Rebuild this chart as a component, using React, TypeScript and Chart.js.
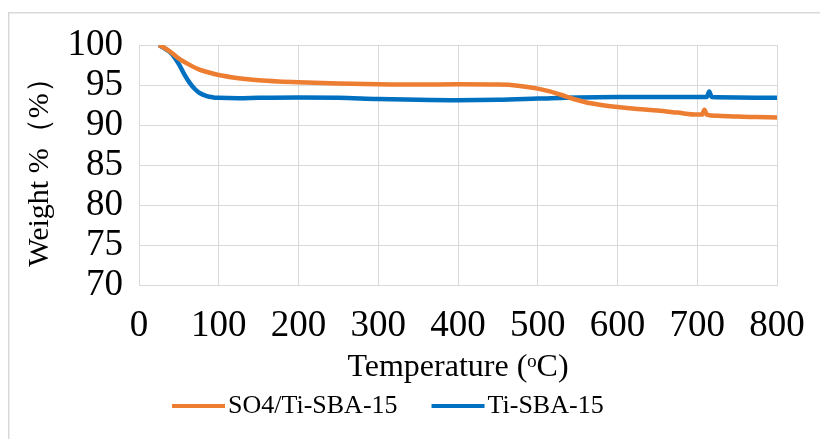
import React, { useEffect, useRef } from "react";
import { Chart, registerables } from "chart.js";

Chart.register(...registerables);

const seriesNames = ["SO4/Ti-SBA-15", "Ti-SBA-15"];
const seriesColors = ["#ED7D31", "#0070C0"];

const tempSO4 = [25, 30, 40, 50, 60, 75, 90, 100, 125, 150, 175, 200, 250, 300, 350, 400, 450, 475, 500, 515, 530, 545, 560, 580, 600, 625, 650, 675, 700, 706, 709, 712, 725, 750, 775, 800];
const weightSO4 = [100, 99.75, 99.1, 98.3, 97.7, 96.95, 96.5, 96.25, 95.85, 95.6, 95.45, 95.35, 95.2, 95.1, 95.05, 95.08, 95.05, 94.92, 94.55, 94.2, 93.75, 93.25, 92.85, 92.5, 92.25, 92.0, 91.8, 91.55, 91.3, 91.3, 91.9, 91.3, 91.15, 91.05, 91.0, 90.95];

const tempTi = [25, 30, 40, 50, 57, 64, 70, 76, 85, 93, 100, 125, 150, 200, 250, 300, 350, 400, 450, 500, 550, 600, 650, 700, 712, 715, 718, 750, 800];
const weightTi = [100, 99.7, 99.0, 97.6, 96.3, 95.2, 94.5, 94.0, 93.6, 93.45, 93.4, 93.35, 93.4, 93.45, 93.4, 93.25, 93.15, 93.1, 93.15, 93.3, 93.45, 93.5, 93.5, 93.5, 93.5, 94.2, 93.5, 93.45, 93.4];

const xTitle = "Temperature (ᵒC)";
const yTitle = "Weight %（%）";

const FONT = "'Liberation Serif', 'Times New Roman', serif";

export default function App() {
  const ref = useRef<HTMLCanvasElement>(null);
  useEffect(() => {
    const canvas = ref.current;
    if (!canvas) return;
    const toPts = (xs: number[], ys: number[]) => xs.map((x, i) => ({ x, y: ys[i] }));
    const frame = {
      id: "frame",
      beforeDraw(chart: any) {
        const ctx = chart.ctx;
        ctx.save();
        ctx.fillStyle = "#ffffff";
        ctx.fillRect(0, 0, chart.width, chart.height);
        ctx.strokeStyle = "#d9d9d9";
        ctx.lineWidth = 1.5;
        ctx.strokeRect(8.75, 12.75, 900, 500);
        ctx.restore();
      },
      afterDraw(chart: any) {
        const ctx = chart.ctx;
        ctx.save();
        ctx.font = "26px " + FONT;
        ctx.textBaseline = "middle";
        ctx.textAlign = "left";
        let x = 172;
        const y = 406;
        chart.data.datasets.forEach((ds: any) => {
          ctx.strokeStyle = ds.borderColor;
          ctx.lineWidth = 4;
          ctx.beginPath();
          ctx.moveTo(x, y);
          ctx.lineTo(x + 53, y);
          ctx.stroke();
          ctx.fillStyle = "#000";
          ctx.fillText(ds.label, x + 56, y);
          x = x + 56 + ctx.measureText(ds.label).width + 34;
        });
        ctx.restore();
      },
    };
    const chart = new Chart(canvas, {
      type: "line",
      data: {
        datasets: [
          {
            label: seriesNames[0],
            data: toPts(tempSO4, weightSO4),
            borderColor: seriesColors[0],
            backgroundColor: seriesColors[0],
            borderWidth: 4.5,
            pointRadius: 0,
            cubicInterpolationMode: "monotone",
          },
          {
            label: seriesNames[1],
            data: toPts(tempTi, weightTi),
            borderColor: seriesColors[1],
            backgroundColor: seriesColors[1],
            borderWidth: 4.5,
            pointRadius: 0,
            cubicInterpolationMode: "monotone",
          },
        ],
      },
      options: {
        responsive: false,
        animation: false,
        layout: { padding: { left: 0, right: 43, top: 45, bottom: 0 } },
        plugins: { legend: { display: false }, tooltip: { enabled: false } },
        scales: {
          x: {
            type: "linear",
            min: 0,
            max: 800,
            ticks: { stepSize: 100, color: "#000", font: { family: FONT, size: 37 }, padding: 19, maxRotation: 0, autoSkip: false },
            grid: { color: "#d9d9d9", lineWidth: 1, drawTicks: false },
            border: { color: "#d9d9d9" },
            title: { display: true, text: xTitle, color: "#000", font: { family: FONT, size: 32 }, padding: { top: 0, bottom: 52 } },
            afterFit: (s: any) => { s.height = 154; s.paddingLeft = 0; s.paddingRight = 0; },
          },
          y: {
            min: 70,
            max: 100,
            ticks: { stepSize: 5, color: "#000", font: { family: FONT, size: 37 }, padding: 16, autoSkip: false },
            grid: { color: "#d9d9d9", lineWidth: 1, drawTicks: false },
            border: { color: "#d9d9d9" },
            title: { display: true, text: yTitle, color: "#000", font: { family: FONT, size: 30 }, padding: { top: 22, bottom: 0 } },
            afterFit: (s: any) => { s.width = 139; s.paddingTop = 0; s.paddingBottom = 0; },
          },
        },
      },
      plugins: [frame],
    });
    return () => chart.destroy();
  }, []);
  return (
    <div style={{ position: "fixed", left: 0, top: 0, width: 820, height: 439 }}>
      <canvas ref={ref} width={820} height={439} style={{ display: "block" }} />
    </div>
  );
}
